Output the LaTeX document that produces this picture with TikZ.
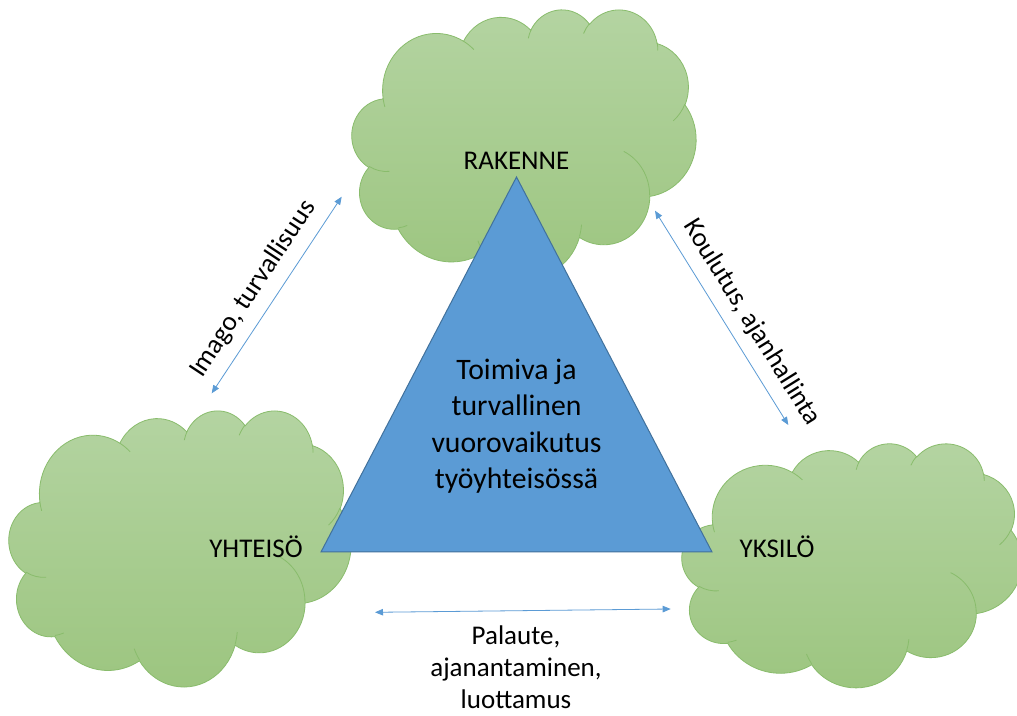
\documentclass[tikz,border=0pt]{standalone}
\usepackage{fontspec}
\setmainfont{Carlito}
\usetikzlibrary{arrows.meta}

\definecolor{cloudtop}{RGB}{180,212,162}
\definecolor{cloudbottom}{RGB}{156,197,127}
\definecolor{cloudedge}{RGB}{137,188,108}
\definecolor{trifill}{RGB}{91,155,213}
\definecolor{triedge}{RGB}{65,113,156}
\definecolor{linkblue}{RGB}{91,155,213}

% Elliptical arc given by radii, start angle and sweep, where the angles are
% visual angles in a y-down frame; converted to TikZ's parametric angles (y up).
\newcommand\ooarc[4]{%
  \pgfextra{%
    \pgfmathsetmacro\ooS{atan2(-(#1)*sin(#3),(#2)*cos(#3))}%
    \pgfmathsetmacro\ooE{atan2(-(#1)*sin((#3)+(#4)),(#2)*cos((#3)+(#4)))}%
    \pgfmathsetmacro\ooE{\ooE-((#4)>0)*(\ooE>(\ooS))*360+((#4)<0)*(\ooE<(\ooS))*360}%
    \xdef\ooS{\ooS}\xdef\ooE{\ooE}%
  }%
  arc[x radius=#1, y radius=#2, start angle=\ooS, end angle=\ooE]%
}

\tikzset{
  cloudbody/.style={top color=cloudtop, bottom color=cloudbottom, draw=cloudedge, line width=0.8pt},
  cloudcrease/.style={draw=cloudedge, line width=0.8pt},
  pics/cloudpic/.style={code={
    \path[cloudbody] (3.9,-14.37)
      \ooarc{6.753}{9.19}{-190.4875}{123.7805}
      \ooarc{5.333}{7.267}{-144.1024}{89.9452}
      \ooarc{4.365}{5.945}{-145.8079}{99.7230}
      \ooarc{4.857}{6.595}{-130.9861}{117.2417}
      \ooarc{5.333}{7.273}{-78.7089}{109.0269}
      \ooarc{6.775}{9.22}{-46.2673}{130.2690}
      \ooarc{5.785}{7.867}{0.625}{114.0333}
      \ooarc{6.752}{9.215}{22.4516}{115.1726}
      \ooarc{7.72}{10.543}{66.2426}{75.711}
      \ooarc{4.36}{5.918}{-274.9421}{146.7356}
      \ooarc{4.345}{5.945}{-246.8285}{152.5189}
      -- cycle;
    \path[cloudcrease]
      (4.693,-26.177) \ooarc{4.345}{5.945}{86.742}{26.4295}
      (6.928,-34.899) \ooarc{4.36}{5.918}{73.6105}{11.4475}
      (16.478,-39.09) \ooarc{6.752}{9.215}{137.6242}{14.0811}
      (28.827,-34.751) \ooarc{6.752}{9.215}{6.4533}{15.9984}
      (34.129,-22.954) \ooarc{5.785}{7.867}{-70.2924}{70.9174}
      (41.798,-15.354) \ooarc{5.333}{7.273}{30.318}{27.7515}
      (38.324,-5.426) \ooarc{4.857}{6.595}{-13.7443}{14.8589}
      (29.078,-3.952) \ooarc{4.857}{6.595}{-149.1815}{18.1954}
      (22.141,-4.72) \ooarc{4.365}{5.945}{-163.4943}{17.6864}
      (14,-5.192) \ooarc{6.753}{9.19}{-66.707}{12.3194}
      (4.127,-15.789) \ooarc{6.753}{9.19}{157.6544}{11.8582};
  }},
  tri/.style={fill=trifill, draw=triedge, line width=1pt, line join=miter},
  link/.style={draw=linkblue, line width=0.8pt,
    {Triangle[length=8pt,width=6.5pt]}-{Triangle[length=8pt,width=6.5pt]}},
  lbl/.style={inner sep=0pt, text=black, font={\fontsize{27}{32}\selectfont}},
  core/.style={inner sep=0pt, text=black, font={\fontsize{29.7}{36.3}\selectfont}},
}

\begin{document}
\begin{tikzpicture}[x=1pt,y=1pt]
  \useasboundingbox (0,0) rectangle (1017,715);
  \fill[white] (0,0) rectangle (1017,715);

  % the three clouds
  \begin{scope}[shift={(352,706)}, xscale=7.963, yscale=6.204]
    \pic[transform shape] {cloudpic};
  \end{scope}
  \begin{scope}[shift={(9,305)}, xscale=7.917, yscale=6.389]
    \pic[transform shape] {cloudpic};
  \end{scope}
  \begin{scope}[shift={(682,272)}, xscale=7.870, yscale=5.648]
    \pic[transform shape] {cloudpic};
  \end{scope}

  % central triangle
  \coordinate (apex) at (516.5,538);
  \coordinate (tl) at (321,163);
  \coordinate (tr) at (712,163);
  \filldraw[tri] (apex) -- (tl) -- (tr) -- cycle;

  % double-headed connectors
  \coordinate (imA) at (211.7,321.7);
  \coordinate (imB) at (341.7,518.3);
  \coordinate (koA) at (655,504.3);
  \coordinate (koB) at (788.3,290);
  \coordinate (paA) at (375,102.7);
  \coordinate (paB) at (670.7,106);
  \draw[link] (imA) -- (imB);
  \draw[link] (koA) -- (koB);
  \draw[link] (paA) -- (paB);

  % labels
  \node[lbl, anchor=base] (rakenne) at (516.5,545.7) {RAKENNE};
  \node[lbl, anchor=base] (yhteiso) at (256,157.3) {YHTEISÖ};
  \node[lbl, anchor=base] (yksilo) at (777,157.3) {YKSILÖ};
  \node[lbl, anchor=base, rotate=56.5] (imago) at (259,422.1) {Imago, turvallisuus};
  \node[lbl, anchor=base, rotate=-58.1] (koulutus) at (745.7,388.7) {Koulutus, ajanhallinta};
  \node[lbl, align=center] (palaute) at (516,47.3) {Palaute,\\ajanantaminen,\\luottamus};
  \node[core, align=center] (core) at (516.5,288.8) {Toimiva ja\\turvallinen\\vuorovaikutus\\työyhteisössä};
\end{tikzpicture}
\end{document}
